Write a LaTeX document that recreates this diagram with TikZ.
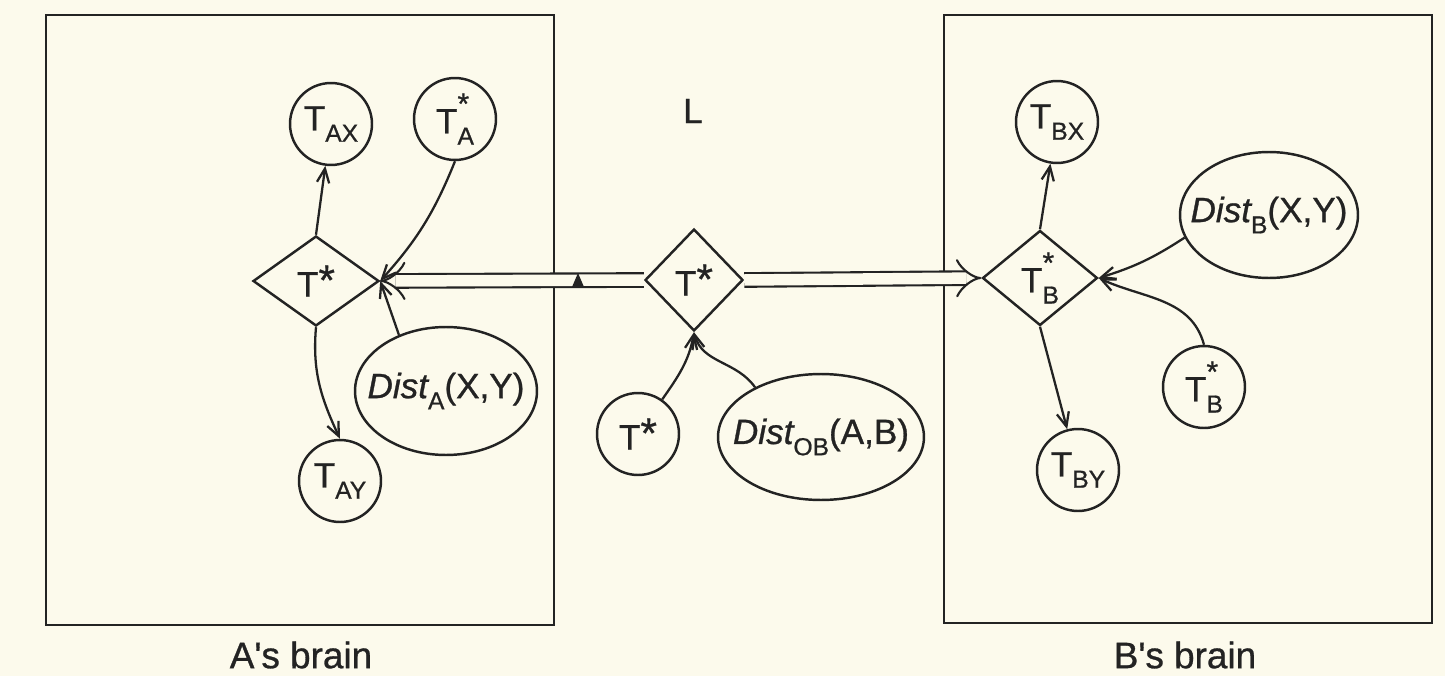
\documentclass[tikz,border=0pt]{standalone}
\usepackage{fontspec}
\setmainfont{Liberation Sans}[FakeBold=0.8]
\usetikzlibrary{shapes.geometric,arrows.meta}
\definecolor{paper}{RGB}{252,250,236}
\definecolor{ink}{RGB}{35,35,35}
% subscript / superscript helpers for the labels
\newcommand{\subf}{\fontsize{14}{14}\selectfont}
\newcommand{\lowr}[1]{\raisebox{-0.32em}{\subf #1}}
\newcommand{\Tsub}[1]{T\lowr{#1}}
\newcommand{\Tstar}[1]{T\rlap{\raisebox{0.55em}{\fontsize{17}{17}\selectfont *}}\lowr{#1}}
\newcommand{\Tst}{T\raisebox{0.05em}{\fontsize{24}{24}\selectfont *}}
\newcommand{\Dist}[2]{\makebox[0pt]{{\itshape Dist}\lowr{#1}(#2)}}
\begin{document}
\begin{tikzpicture}[x=0.02cm,y=0.02cm,line width=1.4pt,
  every node/.style={font=\fontsize{20}{24}\selectfont, text=ink},
  circ/.style={circle, draw=ink, minimum size=1.64cm, inner sep=0pt},
  oval/.style={ellipse, draw=ink, inner sep=0pt},
  dia/.style={diamond, draw=ink, inner sep=0pt},
  arr/.style={draw=ink, line width=1.3pt, -{Straight Barb[length=8pt,width=7pt]}},
  dbl/.style={draw=ink, line width=1.2pt, double=paper, double distance=0.23cm, -{Implies}},
  caption/.style={font=\fontsize{21}{25}\selectfont}]
\fill[paper] (0,0) rectangle (1445,-676);
\useasboundingbox (0,0) rectangle (1445,-676);

% the two brains
\draw[ink] (46,-15) rectangle (554,-625);
\draw[ink] (944,-15) rectangle (1432,-623);
\node[caption] (capA) at (301,-655) {A\textquotesingle s brain};
\node[caption] (capB) at (1185,-655) {B\textquotesingle s brain};
\node (lang) at (693,-111) {L};

% A's side
\node[dia, minimum width=2.52cm, minimum height=1.8cm] (dA) at (316,-281) {\Tst};
\node[circ] (tAX) at (331,-124) {\Tsub{AX}};
\node[circ] (tAs) at (455,-119) {\Tstar{A}};
\node[circ] (tAY) at (340,-481) {\Tsub{AY}};
\node[oval, minimum width=3.64cm, minimum height=2.56cm] (eA) at (446,-391) {\Dist{A}{X,Y}};

% shared public standard
\node[dia, minimum width=1.96cm, minimum height=2.04cm] (dM) at (694,-280) {\Tst};
\node[circ] (tM) at (638,-434) {\Tst};
\node[oval, minimum width=4.12cm, minimum height=2.52cm] (eM) at (821,-437) {\Dist{OB}{A,B}};

% B's side
\node[dia, minimum width=2.3cm, minimum height=1.9cm] (dB) at (1040,-278) {\Tstar{B}};
\node[circ] (tBX) at (1057,-122) {\Tsub{BX}};
\node[circ] (tBs) at (1204,-387) {\Tstar{B}};
\node[circ] (tBY) at (1078,-470) {\Tsub{BY}};
\node[oval, minimum width=3.56cm, minimum height=2.52cm] (eB) at (1269,-215) {\Dist{B}{X,Y}};

% transmission of the standard to both brains
\draw[dbl] (dM.west) -- (dA.east);
\draw[dbl] (dM.east) -- (dB.west);
\fill[ink] (572,-287) -- (584,-287) -- (578,-273) -- cycle;

% connectors in A's brain
\draw[arr] (dA.north) -- (tAX);
\draw[arr] (tAs.south) to[bend left=10] (dA.east);
\draw[arr] (eA.130) -- (dA.east);
\draw[arr] (dA.south) to[out=-95,in=115] (tAY.north);

% connectors to the shared standard
\draw[arr] (tM) to[out=55,in=-100] (dM.south);
\draw[arr] (eM.143) to[out=125,in=-75] (dM.south);

% connectors in B's brain
\draw[arr] (dB.north) -- (tBX);
\draw[arr] (eB.195) to[bend left=8] (dB.east);
\draw[arr] (tBs.north) to[out=105,in=-25] (dB.east);
\draw[arr] (dB.south) -- (tBY);
\end{tikzpicture}
\end{document}
